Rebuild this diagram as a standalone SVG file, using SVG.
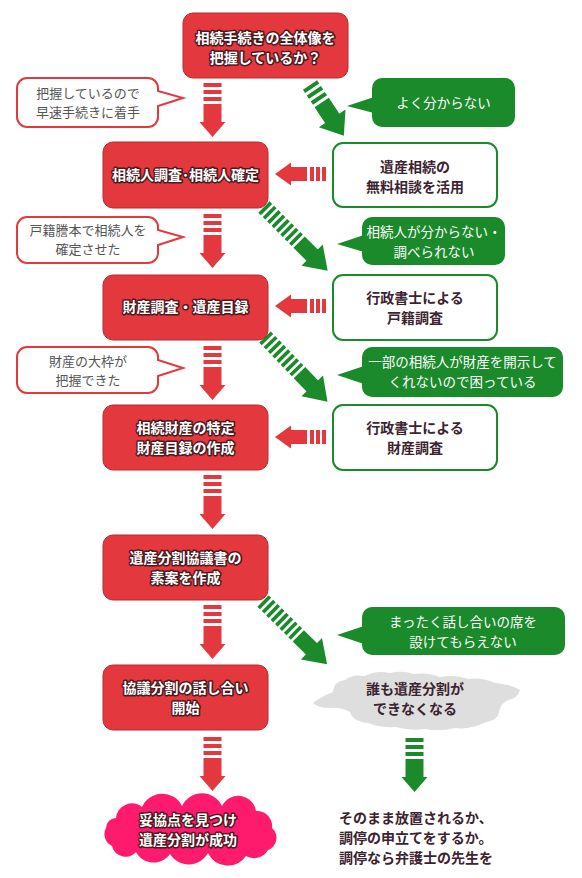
<svg xmlns="http://www.w3.org/2000/svg" width="582" height="878" viewBox="0 0 582 878">
<defs>
<style>
text { font-family: "Noto Sans CJK JP", "Noto Sans CJK SC", sans-serif; font-size: 14px; text-anchor: middle; }
.rbox { fill: #e3383e; stroke: #b8282e; stroke-width: 1; }
.rt { fill: #ffffff; font-weight: 700; stroke: #4a1b1f; stroke-width: 3; paint-order: stroke fill; stroke-linejoin: round; }
.wbox { fill: #ffffff; stroke: #1a8a2a; stroke-width: 2; }
.wt { fill: #3b2330; font-weight: 700; }
.gb { fill: #1a8a2a; }
.gt { fill: #ffffff; font-size: 13.5px; }
.lb { fill: #ffffff; stroke: #e3383e; stroke-width: 2; }
.lt { fill: #555555; font-size: 13px; }
.bt { fill: #3b2330; font-weight: 700; text-anchor: start; }
</style>
<g id="downArrow">
  <rect x="-9" y="0" width="18" height="4"/>
  <rect x="-9" y="7" width="18" height="4"/>
  <rect x="-9" y="14" width="18" height="4"/>
  <rect x="-9" y="21" width="18" height="19"/>
  <polygon points="-13,39 13,39 0,54"/>
</g>
<g id="leftArrow">
  <polygon points="0,0 16,-11.5 16,11.5"/>
  <rect x="15" y="-7" width="17" height="14"/>
  <rect x="35" y="-7" width="4" height="14"/>
  <rect x="41" y="-7" width="4" height="14"/>
  <rect x="47" y="-7" width="4" height="14"/>
</g>
<g id="gArrowLong">
  <rect x="0" y="-8" width="3.6" height="16"/>
  <rect x="6.2" y="-8" width="3.6" height="16"/>
  <rect x="12.4" y="-8" width="3.6" height="16"/>
  <rect x="18.6" y="-8" width="3.6" height="16"/>
  <rect x="24.8" y="-8" width="3.6" height="16"/>
  <rect x="31" y="-8" width="3.6" height="16"/>
  <rect x="37.2" y="-8" width="3.6" height="16"/>
  <rect x="43.4" y="-8" width="3.6" height="16"/>
  <rect x="49.6" y="-8" width="20" height="16"/>
  <polygon points="68,-15 90,0 68,15"/>
</g>
<g id="gArrowShort">
  <rect x="0" y="-8.5" width="4" height="17"/>
  <rect x="7" y="-8.5" width="4" height="17"/>
  <rect x="14" y="-8.5" width="4" height="17"/>
  <rect x="21" y="-8.5" width="21" height="17"/>
  <polygon points="40,-16 61,0 40,16"/>
</g>
</defs>

<rect width="582" height="878" fill="#ffffff"/>

<g id="connectors">
  <use href="#downArrow" transform="translate(212.5,83)" fill="#e3383e"/>
  <use href="#downArrow" transform="translate(212.5,214)" fill="#e3383e"/>
  <use href="#downArrow" transform="translate(212.5,346)" fill="#e3383e"/>
  <use href="#downArrow" transform="translate(212.5,475)" fill="#e3383e"/>
  <use href="#downArrow" transform="translate(212.5,605)" fill="#e3383e"/>
  <use href="#downArrow" transform="translate(212.5,737)" fill="#e3383e"/>
  <use href="#downArrow" transform="translate(414.5,738)" fill="#1a8a2a"/>
  <use href="#leftArrow" transform="translate(275,174)" fill="#e3383e"/>
  <use href="#leftArrow" transform="translate(275,306)" fill="#e3383e"/>
  <use href="#leftArrow" transform="translate(275,437)" fill="#e3383e"/>
  <use href="#gArrowShort" transform="translate(310,85) rotate(56.3)" fill="#1a8a2a"/>
  <use href="#gArrowLong" transform="translate(264,207) rotate(45)" fill="#1a8a2a"/>
  <use href="#gArrowLong" transform="translate(265,337) rotate(46)" fill="#1a8a2a"/>
  <use href="#gArrowLong" transform="translate(263,601) rotate(44.6)" fill="#1a8a2a"/>
</g>

<g id="n1">
  <rect class="rbox" x="183" y="13" width="165" height="65" rx="10"/>
  <text class="rt" x="265.5" y="43">相続手続きの全体像を</text>
  <text class="rt" x="265.5" y="63">把握しているか？</text>
</g>
<g id="n2">
  <rect class="rbox" x="103" y="142" width="165" height="66" rx="10"/>
  <text class="rt" x="185.5" y="180">相続人調査･相続人確定</text>
</g>
<g id="n3">
  <rect class="rbox" x="103" y="275" width="165" height="65" rx="10"/>
  <text class="rt" x="185.5" y="312">財産調査・遺産目録</text>
</g>
<g id="n4">
  <rect class="rbox" x="103" y="405" width="165" height="65" rx="10"/>
  <text class="rt" x="185.5" y="433">相続財産の特定</text>
  <text class="rt" x="185.5" y="453">財産目録の作成</text>
</g>
<g id="n5">
  <rect class="rbox" x="103" y="535" width="165" height="65" rx="10"/>
  <text class="rt" x="185.5" y="563">遺産分割協議書の</text>
  <text class="rt" x="185.5" y="583">素案を作成</text>
</g>
<g id="n6">
  <rect class="rbox" x="103" y="665" width="165" height="65" rx="10"/>
  <text class="rt" x="185.5" y="693">協議分割の話し合い</text>
  <text class="rt" x="185.5" y="713">開始</text>
</g>
<g id="n7">
  <path fill="#fe1b6e" d="M 116,818 A 16,16 0 0 1 142,807 A 22,22 0 0 1 182,806 A 22,22 0 0 1 222,806 A 18,18 0 0 1 256,811 A 15,15 0 0 1 272,828 A 13,13 0 0 1 268,850 A 16,16 0 0 1 246,856 A 22,22 0 0 1 208,853 A 22,22 0 0 1 170,854 A 20,20 0 0 1 136,852 A 14,14 0 0 1 112,846 A 13,13 0 0 1 106,828 A 10,10 0 0 1 116,818 Z"/>
  <text class="rt" x="188" y="825">妥協点を見つけ</text>
  <text class="rt" x="188" y="845">遺産分割が成功</text>
</g>

<g id="w1">
  <rect class="wbox" x="333" y="143" width="164" height="64" rx="10"/>
  <text class="wt" x="415" y="172">遺産相続の</text>
  <text class="wt" x="415" y="192">無料相談を活用</text>
</g>
<g id="w2">
  <rect class="wbox" x="333" y="275" width="164" height="65" rx="10"/>
  <text class="wt" x="415" y="303">行政書士による</text>
  <text class="wt" x="415" y="323">戸籍調査</text>
</g>
<g id="w3">
  <rect class="wbox" x="333" y="405" width="164" height="65" rx="10"/>
  <text class="wt" x="415" y="433">行政書士による</text>
  <text class="wt" x="415" y="453">財産調査</text>
</g>

<g id="g1">
  <rect class="gb" x="372" y="78" width="143" height="49" rx="10"/>
  <polygon class="gb" points="374,97 347,106 374,113"/>
  <text class="gt" x="443.5" y="108">よく分からない</text>
</g>
<g id="g2">
  <rect class="gb" x="362" y="217" width="143" height="48" rx="10"/>
  <polygon class="gb" points="364,235 337,244 364,252"/>
  <text class="gt" x="434" y="237">相続人が分からない・</text>
  <text class="gt" x="434" y="257">調べられない</text>
</g>
<g id="g3">
  <rect class="gb" x="362" y="347" width="201" height="50" rx="10"/>
  <polygon class="gb" points="364,366 337,375 364,384"/>
  <text class="gt" x="462.5" y="367">一部の相続人が財産を開示して</text>
  <text class="gt" x="462.5" y="387">くれないので困っている</text>
</g>
<g id="g4">
  <rect class="gb" x="362" y="607" width="203" height="48" rx="10"/>
  <polygon class="gb" points="364,626 337,635 364,644"/>
  <text class="gt" x="463" y="627">まったく話し合いの席を</text>
  <text class="gt" x="463" y="647">設けてもらえない</text>
</g>

<g id="c1">
  <path class="lb" d="M 27,78 H 148 A 10,10 0 0 1 158,88 V 91 L 183,98 L 158,106 V 117 A 10,10 0 0 1 148,127 H 27 A 10,10 0 0 1 17,117 V 88 A 10,10 0 0 1 27,78 Z"/>
  <text class="lt" x="88" y="98">把握しているので</text>
  <text class="lt" x="88" y="117">早速手続きに着手</text>
</g>
<g id="c2">
  <path class="lb" d="M 27,217 H 148 A 10,10 0 0 1 158,227 V 230 L 183,237 L 158,245 V 253 A 10,10 0 0 1 148,263 H 27 A 10,10 0 0 1 17,253 V 227 A 10,10 0 0 1 27,217 Z"/>
  <text class="lt" x="88" y="235">戸籍謄本で相続人を</text>
  <text class="lt" x="88" y="254">確定させた</text>
</g>
<g id="c3">
  <path class="lb" d="M 27,347 H 148 A 10,10 0 0 1 158,357 V 360 L 183,368 L 158,376 V 383 A 10,10 0 0 1 148,393 H 27 A 10,10 0 0 1 17,383 V 357 A 10,10 0 0 1 27,347 Z"/>
  <text class="lt" x="88" y="366">財産の大枠が</text>
  <text class="lt" x="88" y="385">把握できた</text>
</g>

<g id="cloud">
  <path fill="#dedede" d="M 313,703 Q 322,696 333,692 Q 334,681 345,680 Q 352,674 365,676 Q 376,670 390,673 Q 402,670 414,674 Q 428,672 440,677 Q 455,674 468,679 Q 482,677 495,683 Q 510,684 520,690 Q 518,698 508,700 Q 500,704 499,712 Q 498,720 486,722 Q 470,730 455,728 Q 440,732 425,729 Q 410,731 396,727 Q 380,728 368,723 Q 352,721 350,712 Q 340,707 330,708 Q 318,708 313,703 Z"/>
  <text class="wt" x="415" y="694">誰も遺産分割が</text>
  <text class="wt" x="415" y="714">できなくなる</text>
</g>

<g id="result">
  <text class="bt" x="339" y="823">そのまま放置されるか、</text>
  <text class="bt" x="339" y="843">調停の申立てをするか。</text>
  <text class="bt" x="339" y="863">調停なら弁護士の先生を</text>
</g>
</svg>
